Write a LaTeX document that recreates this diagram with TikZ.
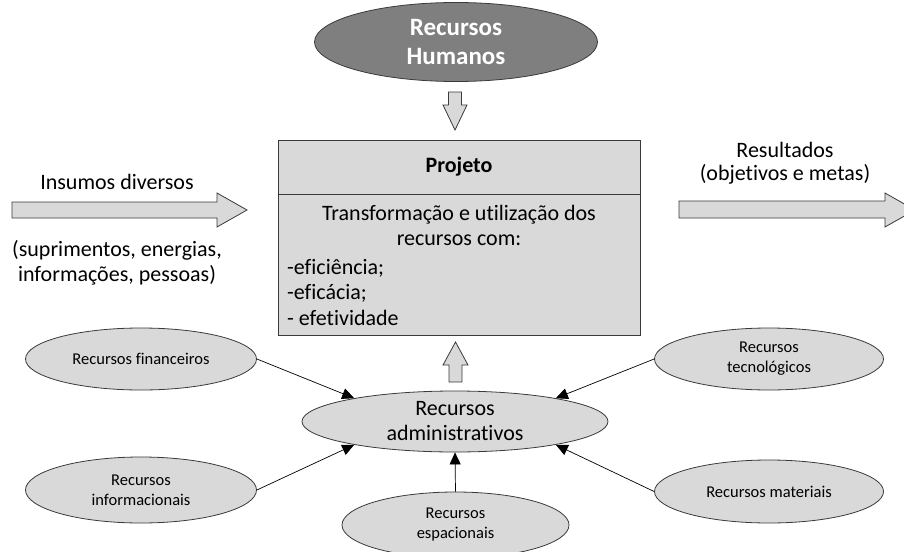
\documentclass[tikz,border=0pt]{standalone}
\usepackage{fontspec}
\setmainfont{Carlito}[Ligatures=NoCommon]
\usetikzlibrary{arrows.meta,shapes.geometric}
\definecolor{lgray}{HTML}{D9D9D9}
\definecolor{dgray}{HTML}{7F7F7F}
\definecolor{edgec}{HTML}{3A3A3A}
\newcommand\txtA{\fontsize{22}{25}\selectfont}
\newcommand\txtB{\fontsize{16.5}{20}\selectfont}
\newcommand\txtH{\fontsize{25}{29}\selectfont}
\begin{document}
\begin{tikzpicture}[x=1pt,y=-1pt,
  ell/.style={ellipse, draw=edgec, fill=lgray, line width=0.8pt, inner sep=0pt, align=center, font=\txtB},
  blockarrow/.style={draw=edgec, fill=lgray, line width=0.8pt, line join=miter},
  conn/.style={-{Triangle[length=12pt,width=11pt]}, line width=0.7pt, draw=black},
  lbl/.style={font=\txtA, align=center, inner sep=0pt}]
\useasboundingbox (0,0) rectangle (904,551);
\clip (0,0) rectangle (904,551);

% Recursos Humanos
\node[ellipse, draw=edgec, fill=dgray, line width=0.8pt, minimum width=283pt, minimum height=79pt,
      inner sep=0pt, align=center, text=white, font=\bfseries\txtH] (rh) at (456,42) {Recursos\\Humanos};

% down block arrow
\draw[blockarrow] (448.5,92) -- (461.5,92) -- (461.5,105) -- (467,105) -- (455,130) -- (443,105) -- (448.5,105) -- cycle;

% Projeto box
\node[draw=edgec, fill=lgray, line width=0.8pt, minimum width=362pt, minimum height=195pt, inner sep=0pt] (proj) at (459,237.5) {};
\draw[edgec, line width=0.8pt] (proj.west |- 0,194) -- (proj.east |- 0,194);
\node[lbl, font=\bfseries\txtA] (ptitle) at (459,167) {Projeto};
\node[lbl] (pl1) at (459,215) {Transformação e utilização dos};
\node[lbl] (pl2) at (459,240) {recursos com:};
\node[lbl, anchor=west] (pl3) at (287,268) {-eficiência;};
\node[lbl, anchor=west] (pl4) at (287,293) {-eficácia;};
\node[lbl, anchor=west] (pl5) at (287,318) {- efetividade};

% Insumos
\node[lbl] (ins) at (117,182) {Insumos diversos};
\draw[blockarrow] (12,202) -- (217,202) -- (217,193) -- (247,210) -- (217,227) -- (217,218) -- (12,218) -- cycle;
\node[lbl] (insd) at (117,262.5) {(suprimentos, energias,\\informações, pessoas)};

% Resultados
\node[lbl, align=center] (res) at (785,163.5) {Resultados\\[-2pt](objetivos e metas)};
\draw[blockarrow] (679,201) -- (885,201) -- (885,193) -- (915,210) -- (885,227) -- (885,218) -- (679,218) -- cycle;

% up block arrow
\draw[blockarrow] (449,382) -- (462,382) -- (462,365) -- (468,365) -- (455.5,342) -- (443,365) -- (449,365) -- cycle;

% Recursos administrativos
\node[ell, font=\txtA, minimum width=306pt, minimum height=61pt] (adm) at (455,421.5) {Recursos\\administrativos};

% small resources
\node[ell, minimum width=231pt, minimum height=62pt] (fin) at (141,359) {Recursos financeiros};
\node[ell, minimum width=231pt, minimum height=66pt] (inf) at (141,490) {Recursos\\informacionais};
\node[ell, minimum width=227pt, minimum height=66pt] (esp) at (455.5,525) {Recursos\\espacionais};
\node[ell, minimum width=229pt, minimum height=62pt] (tec) at (769,359) {Recursos\\tecnológicos};
\node[ell, minimum width=229pt, minimum height=63pt] (mat) at (769,491.5) {Recursos materiais};

% connectors
\draw[conn] (fin.east) -- (adm.167);
\draw[conn] (inf.east) -- (adm.193);
\draw[conn] (tec.west) -- (adm.13);
\draw[conn] (mat.west) -- (adm.347);
\draw[conn] (esp.north) -- (adm.south);
\end{tikzpicture}
\end{document}
